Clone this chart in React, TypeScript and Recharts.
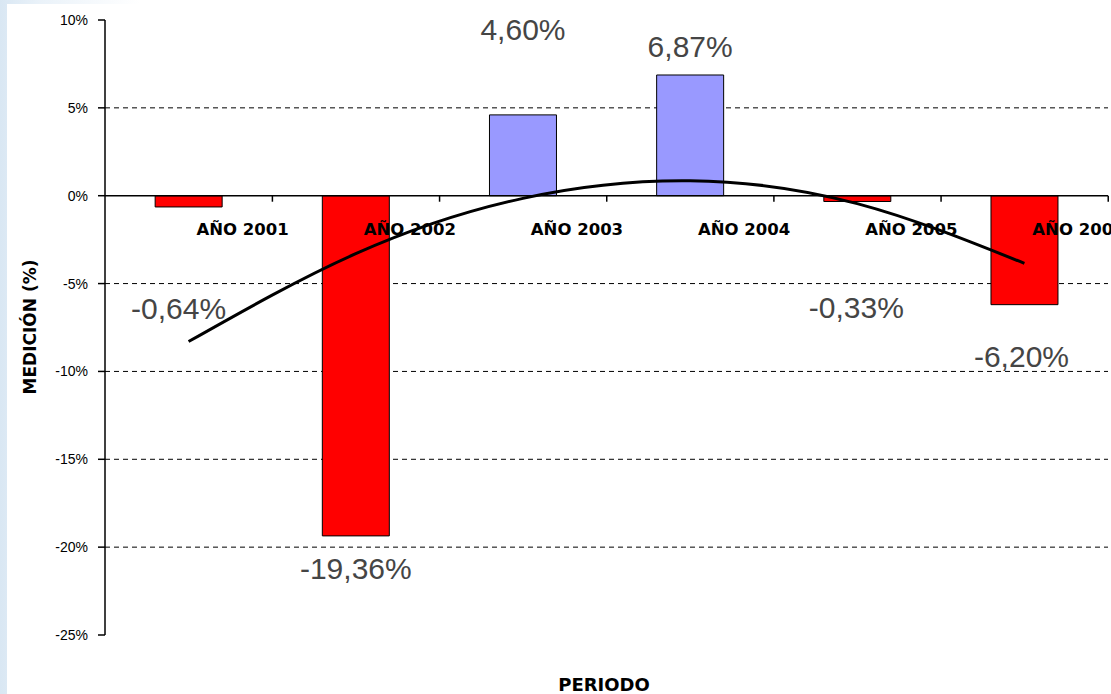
import React from 'react';
import {
  ComposedChart,
  Bar,
  Line,
  XAxis,
  YAxis,
  CartesianGrid,
  ReferenceLine,
  LabelList,
  Cell,
} from 'recharts';

const categories = ['AÑO 2001', 'AÑO 2002', 'AÑO 2003', 'AÑO 2004', 'AÑO 2005', 'AÑO 2006'];
const medicion = [-0.64, -19.36, 4.6, 6.87, -0.33, -6.2];
const tendencia = [-8.3, -3.3, -0.15, 0.85, -0.45, -3.85];
const yTicks = [-25, -20, -15, -10, -5, 0, 5, 10];
const gridValues = [-20, -15, -10, -5, 5];

// label placement (dx, dy from bar end), layout only
const labelOffsets = [
  { dx: -10, dy: 112 },
  { dx: 0, dy: 43 },
  { dx: 0, dy: -75 },
  { dx: 0, dy: -18 },
  { dx: -1, dy: 116 },
  { dx: -3, dy: 62 },
];

const POS_COLOR = '#9999ff';
const NEG_COLOR = '#ff0000';

const data = categories.map((c, i) => ({
  category: c,
  medicion: medicion[i],
  tendencia: tendencia[i],
}));

const fmt = (v: number) => v.toFixed(2).replace('.', ',') + '%';

function geom(props: any) {
  const vb = props.viewBox || {};
  const x = props.x ?? vb.x;
  const y = props.y ?? vb.y;
  const w = props.width ?? vb.width;
  const h = props.height ?? vb.height;
  return { x: Number(x), y: Number(y), w: Number(w), h: Number(h) };
}

const ValueLabel = (props: any) => {
  const { index } = props;
  const { x, y, w, h } = geom(props);
  const v = medicion[index];
  const top = Math.min(y, y + h);
  const bottom = Math.max(y, y + h);
  const end = v >= 0 ? top : bottom;
  const off = labelOffsets[index] || { dx: 0, dy: 0 };
  return (
    <text
      x={x + w / 2 + off.dx}
      y={end + off.dy}
      textAnchor="middle"
      fontFamily="'Liberation Sans', Arial, sans-serif"
      fontSize={30}
      fill="#454545"
    >
      {fmt(v)}
    </text>
  );
};

const CategoryLabel = (props: any) => {
  const { index } = props;
  const { x, y, w, h } = geom(props);
  const v = medicion[index];
  const top = Math.min(y, y + h);
  const bottom = Math.max(y, y + h);
  const zero = v >= 0 ? bottom : top;
  const center = x + w / 2;
  const band = w / 0.4;
  const boundary = center + band / 2;
  return (
    <g>
      <line x1={boundary} x2={boundary} y1={zero} y2={zero + 6} stroke="#000" strokeWidth={1.5} />
      <text
        x={center + 54}
        y={zero + 39}
        textAnchor="middle"
        fontFamily="'DejaVu Sans', sans-serif"
        fontWeight="bold"
        fontSize={16.5}
        fill="#000"
      >
        {categories[index]}
      </text>
    </g>
  );
};

export default function App() {
  return (
    <div
      style={{
        position: 'absolute',
        left: 0,
        top: 0,
        width: 1111,
        height: 694,
        overflow: 'hidden',
        background: 'linear-gradient(to right, #d9e7f3 0px, #eaf2f9 40px, #ffffff 140px)',
      }}
    >
      <div
        style={{
          position: 'absolute',
          left: 7,
          top: 4,
          width: 1104,
          height: 690,
          background: '#ffffff',
        }}
      />
      <div style={{ position: 'absolute', left: 0, top: 0 }}>
        <ComposedChart
          width={1111}
          height={694}
          data={data}
          margin={{ top: 20, right: 3, bottom: 59, left: 0 }}
          barCategoryGap="30%"
        >
          <CartesianGrid
            horizontal
            vertical={false}
            horizontalValues={gridValues}
            stroke="#000"
            strokeDasharray="5 4"
            strokeWidth={1}
          />
          <XAxis dataKey="category" hide />
          <YAxis
            width={105}
            domain={[-25, 10]}
            ticks={yTicks}
            interval={0}
            allowDataOverflow
            tickFormatter={(v: number) => `${v}%`}
            axisLine={{ stroke: '#000', strokeWidth: 1.5 }}
            tickLine={{ stroke: '#000', strokeWidth: 1.5 }}
            tickSize={7}
            tickMargin={10}
            tick={{ fontSize: 14, fill: '#000', fontFamily: "'Liberation Sans', Arial, sans-serif" }}
          />
          <Bar dataKey="medicion" stroke="#000" strokeWidth={1} isAnimationActive={false}>
            {data.map((d, i) => (
              <Cell key={i} fill={d.medicion >= 0 ? POS_COLOR : NEG_COLOR} />
            ))}
            <LabelList dataKey="medicion" content={ValueLabel} />
            <LabelList dataKey="category" content={CategoryLabel} />
          </Bar>
          <ReferenceLine y={0} stroke="#000" strokeWidth={1.5} />
          <Line
            dataKey="tendencia"
            type="natural"
            stroke="#000"
            strokeWidth={3}
            dot={false}
            activeDot={false}
            isAnimationActive={false}
          />
        </ComposedChart>
      </div>
      <div
        style={{
          position: 'absolute',
          left: 30,
          top: 327,
          transform: 'translate(-50%, -50%) rotate(-90deg)',
          fontFamily: "'DejaVu Sans', sans-serif",
          fontWeight: 'bold',
          fontSize: 17,
          whiteSpace: 'nowrap',
          color: '#000',
        }}
      >
        MEDICIÓN (%)
      </div>
      <div
        style={{
          position: 'absolute',
          left: 604,
          top: 684,
          transform: 'translate(-50%, -50%)',
          fontFamily: "'DejaVu Sans', sans-serif",
          fontWeight: 'bold',
          fontSize: 18,
          whiteSpace: 'nowrap',
          color: '#000',
        }}
      >
        PERIODO
      </div>
    </div>
  );
}
